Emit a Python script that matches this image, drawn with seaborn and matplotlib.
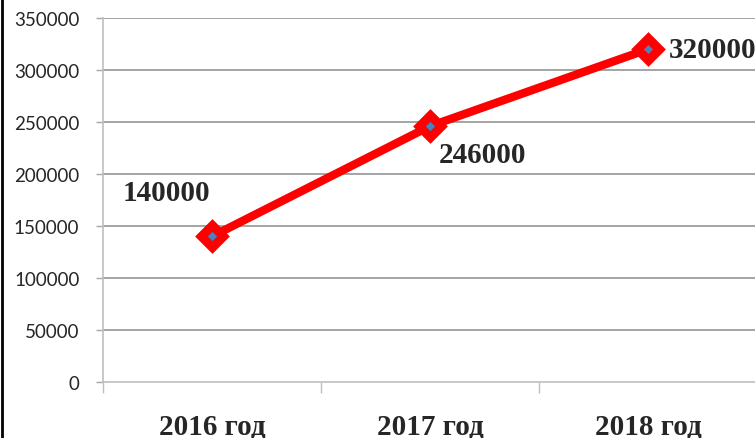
import matplotlib
matplotlib.use("Agg")
import matplotlib.pyplot as plt
import seaborn as sns
import pandas as pd
from matplotlib.ticker import FixedLocator

years = ["2016 год", "2017 год", "2018 год"]
values = [140000, 246000, 320000]
y_ticks = [0, 50000, 100000, 150000, 200000, 250000, 300000, 350000]
# label offsets in pixels from each point
label_offsets = [(-46, 44), (52, -28), (65, 0)]

df = pd.DataFrame({"year": years, "value": values})

sns.set_style("white")

fig = plt.figure(figsize=(7.55, 4.39), dpi=100)
ax = fig.add_axes([103 / 755, 56 / 439, 654 / 755, 364 / 439])

# gridlines
for t in y_ticks[1:]:
    ax.axhline(t, color="#8c8c8c", lw=1.1, zorder=0)

sns.lineplot(data=df, x="year", y="value", ax=ax, color="red", lw=6,
             marker="D", markersize=11, markerfacecolor="#4f81bd",
             markeredgecolor="red", markeredgewidth=6.5, sort=False, zorder=3)

ax.set_xlim(-0.5, 2.5)
ax.set_ylim(0, 350000)
ax.set_yticks(y_ticks)
ax.set_yticklabels([str(t) for t in y_ticks], fontsize=13.5, family="Lato")
ax.set_xlabel("")
ax.set_ylabel("")

ax.tick_params(axis="y", which="major", length=5, width=1, color="#a6a6a6",
               direction="out", pad=12, left=True)
ax.xaxis.set_minor_locator(FixedLocator([-0.5, 0.5, 1.5, 2.5]))
ax.tick_params(axis="x", which="major", length=0, pad=22)
ax.tick_params(axis="x", which="minor", length=8, width=1, color="#bfbfbf",
               direction="out", bottom=True)
for lab in ax.get_xticklabels():
    lab.set_fontfamily("Liberation Serif")
    lab.set_fontweight("bold")
    lab.set_fontsize(21)

for s in ["top", "right"]:
    ax.spines[s].set_visible(False)
ax.spines["left"].set_color("#bfbfbf")
ax.spines["bottom"].set_color("#bfbfbf")
ax.spines["left"].set_linewidth(1.2)
ax.spines["bottom"].set_linewidth(1.2)

for i, (v, off) in enumerate(zip(values, label_offsets)):
    ax.annotate(str(v), (i, v), xytext=off, textcoords="offset pixels",
                ha="center", va="center", fontsize=21, fontweight="bold",
                family="Liberation Serif", annotation_clip=False, zorder=4)

# left border of the image
fig.add_artist(plt.Line2D([0.002, 0.002], [0, 1], color="black", lw=2,
                          transform=fig.transFigure))

fig.savefig("out.png", dpi=100)
